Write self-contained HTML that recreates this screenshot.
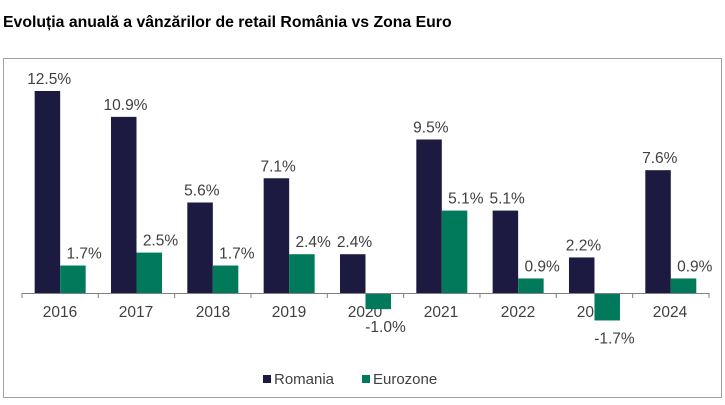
<!DOCTYPE html>
<html><head><meta charset="utf-8"><style>
html,body{margin:0;padding:0;background:#fff;}
body{width:725px;height:400px;overflow:hidden;font-family:"Liberation Sans",Arial,sans-serif;}
</style></head><body>
<svg width="725" height="400" xmlns="http://www.w3.org/2000/svg" font-family="Liberation Sans, Arial, sans-serif">
<text x="3" y="27" font-size="15.8" font-weight="bold" fill="#000">Evoluția anuală a vânzărilor de retail România vs Zona Euro</text>
<rect x="3.5" y="58.5" width="718" height="339" fill="none" stroke="#a0a0a0" stroke-width="1"/>
<g font-size="15.5" fill="#404040" text-anchor="middle">
<text x="60" y="317">2016</text><text x="136" y="317">2017</text><text x="213" y="317">2018</text>
<text x="289" y="317">2019</text><text x="365" y="317">2020</text><text x="441" y="317">2021</text>
<text x="518" y="317">2022</text><text x="594" y="317">2023</text><text x="670" y="317">2024</text>
</g>
<g id="bars"></g>
<line x1="22" y1="293.5" x2="709" y2="293.5" stroke="#808080"/>
<g id="ticks" stroke="#808080"></g>
<g id="labels" font-size="15.5" fill="#404040" text-anchor="middle"></g>
<rect x="263" y="375" width="8" height="8" fill="#1c1a40"/>
<text x="274" y="384" font-size="15" fill="#404040">Romania</text>
<rect x="362" y="375" width="8" height="8" fill="#007a5a"/>
<text x="373" y="384" font-size="15" fill="#404040">Eurozone</text>
</svg>
<script>
var R=[12.5,10.9,5.6,7.1,2.4,9.5,5.1,2.2,7.6],E=[1.7,2.5,1.7,2.4,-1.0,5.1,0.9,-1.7,0.9];
var ns="http://www.w3.org/2000/svg",k=16.16,ax=293,sp=76.33;
function el(t,a,p,txt){var e=document.createElementNS(ns,t);for(var i in a)e.setAttribute(i,a[i]);if(txt)e.textContent=txt;document.getElementById(p).appendChild(e);}
for(var t=0;t<=9;t++){var x=22+t*sp;el('line',{x1:x,y1:ax,x2:x,y2:ax+5},'ticks');}
for(var i=0;i<9;i++){var c=22+(i+0.5)*sp;
var h=R[i]*k;el('rect',{x:c-25.5,y:ax-h,width:25.5,height:h,fill:'#1c1a40'},'bars');
el('text',{x:c-11,y:ax-h-7},'labels',R[i].toFixed(1)+'%');
var e=E[i],he=Math.abs(e)*k;
if(e>=0){el('rect',{x:c,y:ax-he,width:25.5,height:he,fill:'#007a5a'},'bars');el('text',{x:c+24,y:ax-he-7},'labels',e.toFixed(1)+'%');}
else{el('rect',{x:c,y:ax,width:25.5,height:he,fill:'#007a5a'},'bars');el('text',{x:c+20,y:ax+he+23},'labels',e.toFixed(1)+'%');}
}
</script>
</body></html>
